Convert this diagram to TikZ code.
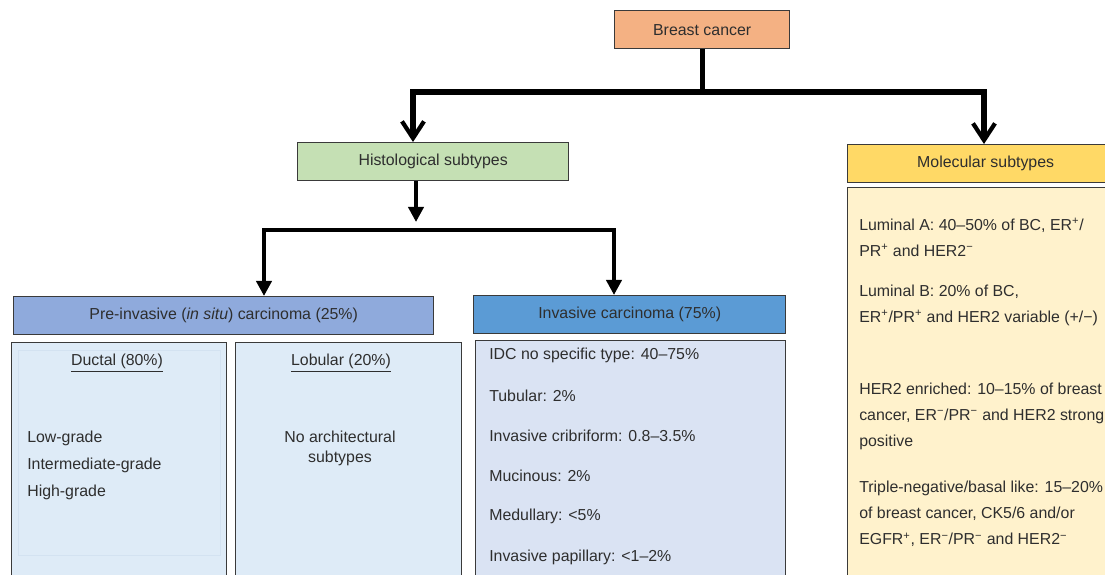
\documentclass[tikz,border=0pt]{standalone}
\usepackage{fontspec}
\setmainfont{Liberation Sans}
\usetikzlibrary{arrows.meta}

\definecolor{boxline}{HTML}{3A3A3A}
\definecolor{txt}{HTML}{2E2E2E}
\definecolor{bcorange}{HTML}{F4B183}
\definecolor{histgreen}{HTML}{C5E0B4}
\definecolor{molyellow}{HTML}{FFD966}
\definecolor{mollight}{HTML}{FFF2CC}
\definecolor{preblue}{HTML}{8FAADC}
\definecolor{invblue}{HTML}{5B9BD5}
\definecolor{ductlight}{HTML}{DEEBF7}
\definecolor{invlight}{HTML}{DAE3F3}
\definecolor{faintline}{HTML}{D3E2F1}

\tikzset{
  box/.style={draw=boxline, line width=0.9pt, inner sep=0pt, anchor=north west,
    text=txt, font=\fontsize{11.3}{13}\selectfont},
  item/.style={inner sep=0pt, text=txt, font=\fontsize{11.3}{18.5}\selectfont},
  trunk/.style={line width=3.6pt},
  branch/.style={line width=2.9pt},
  barb/.style={-{Straight Barb[length=4.2mm, width=5.5mm, line width=3pt]}},
  tri/.style={-{Triangle[length=3.8mm, width=3.8mm]}}
}

\begin{document}
\begin{tikzpicture}[x=0.025cm, y=-0.025cm]
    \clip (0,0) rectangle (1105,574);

    % header boxes
    \node[box, fill=bcorange, minimum width=4.375cm, minimum height=0.95cm] (bc) at (614,10) {Breast cancer};
    \node[box, fill=histgreen, minimum width=6.775cm, minimum height=0.95cm] (hist) at (297,142) {Histological subtypes};
    \node[box, fill=molyellow, minimum width=6.9cm, minimum height=0.95cm] (mol) at (847,144) {Molecular subtypes};
    \node[box, fill=preblue, minimum width=10.5cm, minimum height=0.95cm] (pre) at (13,296) {Pre-invasive (\textit{in situ}) carcinoma (25\%)};
    \node[box, fill=invblue, minimum width=7.8cm, minimum height=0.95cm] (inv) at (473,295) {Invasive carcinoma (75\%)};

    % content boxes
    \node[box, fill=mollight, minimum width=7.5cm, minimum height=10cm] (molbody) at (847,187) {};
    \node[box, fill=ductlight, minimum width=5.375cm, minimum height=6.25cm] (duct) at (11,342) {};
    \node[box, fill=ductlight, minimum width=5.65cm, minimum height=6.25cm] (lob) at (235,342) {};
    \node[box, fill=invlight, minimum width=7.75cm, minimum height=6.25cm] (invbody) at (475,340) {};
    \draw[faintline, line width=0.6pt] (18,350) rectangle (220,555);

    % connectors
    \coordinate (j1) at (bc.south |- 0,92);
    \draw[trunk] (bc.south) -- (j1);
    \draw[trunk, barb] (j1) -| (413,0 |- hist.north);
    \draw[trunk, barb] (j1) -| (984,0 |- mol.north);

    \coordinate (h1) at (416,222);
    \draw[branch, tri] (416,0 |- hist.south) -- (h1);
    \coordinate (j2) at (440,230);
    \draw[branch, tri] (j2) -| (264,0 |- pre.north);
    \draw[branch, tri] (j2) -| (614,0 |- inv.north);

    % pre-invasive
    \node[item] (ductt) at (117,363) {\underline{Ductal (80\%)}};
    \node[item, anchor=west, align=left, font=\fontsize{11.3}{19.2}\selectfont] (grades) at (27,465) {Low-grade\\Intermediate-grade\\High-grade};
    \node[item] (lobt) at (341,363) {\underline{Lobular (20\%)}};
    \node[item, align=center, font=\fontsize{11.3}{14.2}\selectfont] (lobsub) at (340,448) {No architectural\\subtypes};

    % invasive
    \foreach \t [count=\i] in {IDC no specific type: 40–75\%, Tubular: 2\%, Invasive cribriform: 0.8–3.5\%,
        Mucinous: 2\%, Medullary: <5\%, Invasive papillary: <1–2\%} {
        \node[item, anchor=west] (inv\i) at (489, {355+40.4*(\i-1)}) {\t};
    }

    % molecular
    \node[item, anchor=west, align=left] (luma) at (859,237.5) {Luminal A: 40–50\% of BC, ER\textsuperscript{+}/\\PR\textsuperscript{+} and HER2\textsuperscript{−}};
    \node[item, anchor=west, align=left] (lumb) at (859,305) {Luminal B: 20\% of BC,\\ER\textsuperscript{+}/PR\textsuperscript{+} and HER2 variable (+/−)};
    \node[item, anchor=west, align=left] (her) at (859,416) {HER2 enriched: 10–15\% of breast\\cancer, ER\textsuperscript{−}/PR\textsuperscript{−} and HER2 strong\\positive};
    \node[item, anchor=west, align=left] (tneg) at (859,514) {Triple-negative/basal like: 15–20\%\\of breast cancer, CK5/6 and/or\\EGFR\textsuperscript{+}, ER\textsuperscript{−}/PR\textsuperscript{−} and HER2\textsuperscript{−}};
\end{tikzpicture}
\end{document}
